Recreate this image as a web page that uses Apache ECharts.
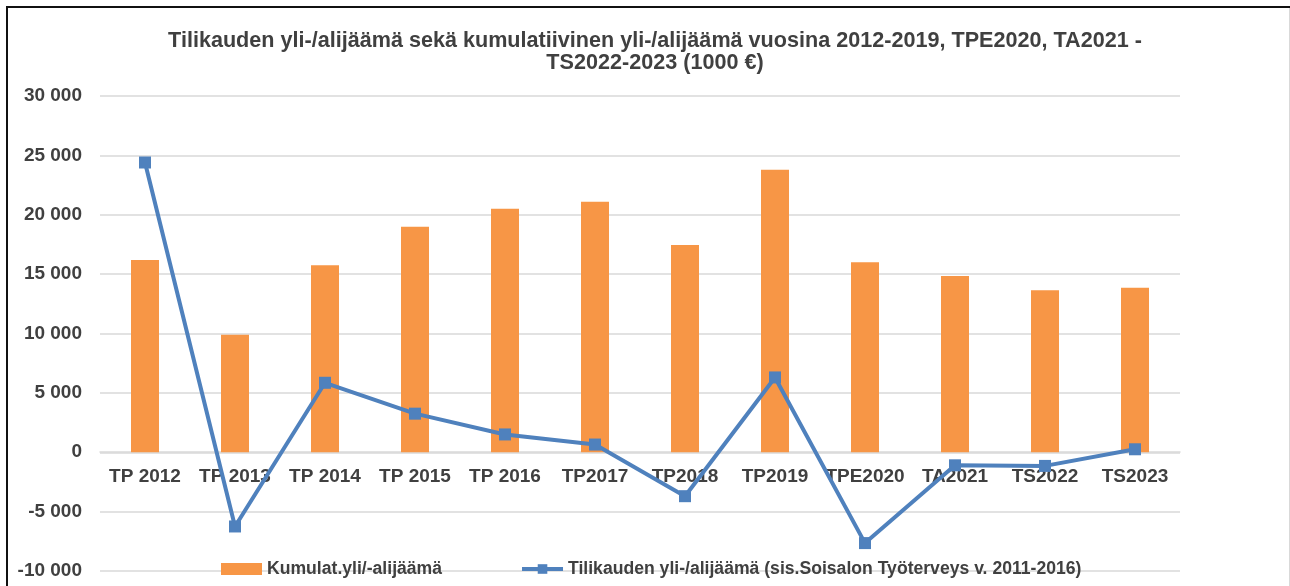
<!DOCTYPE html>
<html>
<head>
<meta charset="utf-8">
<script src="https://cdn.jsdelivr.net/npm/echarts@6/dist/echarts.min.js"></script>
<style>
  html, body { margin: 0; padding: 0; background: #fff; }
  #chart { width: 1290px; height: 586px; }
  .frame {
    position: absolute; left: 6px; top: 6px; right: 0; bottom: 0;
    border-top: 2px solid #111; border-left: 2px solid #111;
    pointer-events: none;
  }
  .frame-r { position: absolute; right: 0; top: 8px; bottom: 0; width: 1px; background: #d9d9d9; }
</style>
</head>
<body>
<div id="chart"></div>
<div class="frame"></div>
<div class="frame-r"></div>
<script>
// vuodet / kategoriat
const categories = ["TP 2012", "TP 2013", "TP 2014", "TP 2015", "TP 2016", "TP2017",
  "TP2018", "TP2019", "TPE2020", "TA2021", "TS2022", "TS2023"];
// Kumulat.yli/-alijäämä (1000 €)
const cumulative = [16200, 9900, 15750, 19000, 20500, 21100, 17450, 23800, 16000, 14850, 13650, 13850];
// Tilikauden yli-/alijäämä (1000 €)
const annual = [24400, -6250, 5850, 3250, 1500, 650, -3700, 6300, -7650, -1100, -1150, 250];

const font = "'Liberation Sans', Arial, sans-serif";
const textColor = "#404040";

const fmt = (v) => {
  const s = Math.abs(v).toString().replace(/\B(?=(\d{3})+(?!\d))/g, " ");
  return (v < 0 ? "-" : "") + s;
};

const chart = echarts.init(document.getElementById("chart"));
chart.setOption({
  animation: false,
  backgroundColor: "#fff",
  textStyle: { fontFamily: font },
  title: {
    text: "Tilikauden yli-/alijäämä sekä kumulatiivinen yli-/alijäämä vuosina 2012-2019, TPE2020, TA2021 -\nTS2022-2023 (1000 €)",
    left: 650,
    textAlign: "center",
    top: 25,
    textStyle: {
      fontFamily: font,
      fontSize: 21.6,
      fontWeight: "bold",
      color: textColor,
      lineHeight: 22,
    },
  },
  legend: {
    left: 216,
    top: 555,
    itemGap: 78,
    itemWidth: 41,
    itemHeight: 12,
    textStyle: { fontFamily: font, fontSize: 17.6, fontWeight: "bold", color: textColor },
    data: [
      { name: "Kumulat.yli/-alijäämä", icon: "rect" },
      {
        name: "Tilikauden yli-/alijäämä (sis.Soisalon Työterveys v. 2011-2016)",
        lineStyle: { width: 4 },
      },
    ],
  },
  grid: { left: 100, right: 110, top: 96, bottom: 15, containLabel: false, outerBoundsMode: "none" },
  xAxis: {
    type: "category",
    data: categories,
    // akseli nollatasolle (onZero ei toimi tässä)
    offset: -119,
    axisTick: { show: false },
    axisLine: { show: true, onZero: false, lineStyle: { color: "#d9d9d9", width: 1.5 } },
    axisLabel: {
      margin: 15,
      fontSize: 19,
      fontWeight: "bold",
      color: textColor,
      fontFamily: font,
      interval: 0,
    },
  },
  yAxis: {
    type: "value",
    min: -10000,
    max: 30000,
    interval: 5000,
    axisLine: { show: false },
    axisTick: { show: false },
    splitLine: { lineStyle: { color: "#d9d9d9", width: 1.5 } },
    axisLabel: {
      margin: 18,
      fontSize: 19,
      fontWeight: "bold",
      color: textColor,
      fontFamily: font,
      formatter: fmt,
    },
  },
  series: [
    {
      name: "Kumulat.yli/-alijäämä",
      type: "bar",
      data: cumulative,
      barWidth: 28,
      itemStyle: { color: "#F79646" },
      z: 2,
    },
    {
      name: "Tilikauden yli-/alijäämä (sis.Soisalon Työterveys v. 2011-2016)",
      type: "line",
      data: annual,
      symbol: "rect",
      symbolSize: 12,
      lineStyle: { color: "#4F81BD", width: 4 },
      itemStyle: { color: "#4F81BD" },
      z: 3,
    },
  ],
});
</script>
</body>
</html>
